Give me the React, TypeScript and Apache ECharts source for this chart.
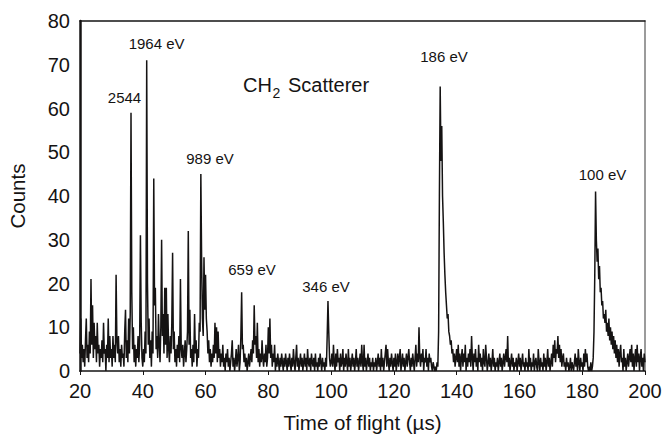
import React, { useEffect, useRef } from "react";
import * as echarts from "echarts";

// Time-of-flight channel grid (µs)
const START_TOF = 20;
const CHANNEL_WIDTH = 0.25;

// Counts per channel, 10 µs per array
const seg020 = [4,12,3,6,2,5,1,7, 12,3,6,2,9,4,21,6, 15,3,11,5,8,2,11,4, 6,1,5,3,7,2,11,4, 5,0,6,3,12,2,8,3];
const seg030 = [5,1,8,3,6,2,22,7, 4,8,2,5,1,6,3,4, 1,9,14,3,7,2,12,4, 13,59,18,5,10,2,6,1, 5,3,8,2,6,31,11,3];
const seg040 = [1,5,2,9,4,71,20,6, 12,3,7,1,9,4,44,15, 19,5,8,3,13,6,2,10, 30,8,13,4,19,6,19,3, 13,5,2,8,4,11,27,5];
const seg050 = [9,2,5,1,6,3,8,2, 21,5,3,6,1,4,7,2, 5,9,32,6,14,3,5,1, 6,2,13,4,7,1,5,3, 11,9,45,25,12,8,26,14];
const seg060 = [22,12,9,4,7,2,5,1, 4,2,6,3,11,4,10,2, 9,3,5,1,4,2,6,1, 3,0,4,2,5,1,3,0, 2,4,7,1,3,0,2,5];
const seg070 = [1,3,6,0,2,8,18,5, 6,2,4,1,3,0,2,4, 1,3,5,2,7,4,15,6, 8,3,11,2,5,1,4,2, 7,3,1,4,2,6,1,3];
const seg080 = [10,4,12,3,6,1,4,2, 6,0,3,1,4,2,0,3, 1,4,2,0,3,1,4,2, 0,3,1,4,2,0,3,1, 5,2,0,3,6,1,3,0];
const seg090 = [2,4,1,3,0,2,4,1, 3,0,5,2,1,3,0,4, 2,1,3,0,4,1,2,0, 3,1,4,2,0,3,1,2, 0,3,1,8,16,9,3,1];
const seg100 = [2,4,1,6,2,0,4,1, 5,2,3,0,4,1,2,5, 0,3,1,4,2,0,5,1, 3,0,2,4,1,3,0,2, 5,1,3,0,2,4,1,6];
const seg110 = [2,0,6,1,3,0,2,4, 1,3,0,2,1,3,0,2, 1,3,0,2,4,1,3,0, 5,1,3,0,2,4,6,1, 5,2,0,3,1,4,2,0];
const seg120 = [3,1,4,0,2,4,1,3, 5,0,2,4,1,3,0,2, 4,1,3,5,2,0,3,1, 4,2,0,3,6,1,4,2, 10,3,1,4,2,5,0,3];
const seg130 = [2,5,1,3,0,4,2,3, 1,0,2,1,0,1,0,2, 1,9,40,65,48,56,40,34, 27,22,18,15,12,13,9,8, 6,7,4,5,2,4,1,3];
const seg140 = [5,2,6,1,4,0,3,5, 1,4,2,6,0,3,1,4, 2,5,1,8,3,0,4,2, 5,1,3,0,6,2,4,1, 3,0,5,2,1,6,3,0];
const seg150 = [2,4,1,3,0,2,5,1, 3,0,2,1,3,0,2,4, 1,3,0,2,4,1,3,5, 2,8,1,3,0,2,4,1, 3,0,2,1,3,0,2,4];
const seg160 = [1,3,0,2,4,1,2,0, 3,1,2,0,5,1,3,0, 2,1,4,0,2,3,1,0, 5,2,0,3,1,2,0,4, 1,3,0,2,5,1,3,0];
const seg170 = [2,4,1,6,3,7,2,5, 4,8,3,6,2,5,1,3, 4,1,2,0,3,1,2,0, 1,3,0,2,1,0,2,4, 1,3,0,5,2,0,3,1];
const seg180 = [2,0,4,1,5,2,4,1, 0,1,0,2,0,1,3,9, 22,41,30,25,28,21,24,18, 19,15,16,12,13,11,14,9, 11,8,12,7,10,6,9,5];
const seg190 = [8,4,7,3,6,2,5,1, 4,6,2,3,0,5,1,3, 0,2,4,1,3,5,2,6, 1,4,0,3,5,1,6,2, 4,0,3,5,1,3,0,4, 2];

// Peak labels
const peakLabels = ["1964 eV", "2544", "989 eV", "659 eV", "346 eV", "186 eV", "100 eV"];

const FONT = "'Liberation Sans', Arial, Helvetica, sans-serif";
const INK = "#151313";

export default function App() {
  const ref = useRef<HTMLDivElement>(null);
  useEffect(() => {
    const chart = echarts.init(ref.current!, null, { renderer: "svg" });
    const counts = [
      ...seg020, ...seg030, ...seg040, ...seg050, ...seg060, ...seg070,
      ...seg080, ...seg090, ...seg100, ...seg110, ...seg120, ...seg130,
      ...seg140, ...seg150, ...seg160, ...seg170, ...seg180, ...seg190,
    ];
    const data = counts.map((c, i) => [START_TOF + CHANNEL_WIDTH * i, c]);

    const labelPos: [number, number][] = [
      [156.6, 43], [124.5, 97], [210, 158], [252, 269], [326, 286], [444, 56], [602.5, 174],
    ];
    const textEl = (text: string, x: number, y: number, size: number, align = "center") => ({
      type: "text",
      x,
      y,
      silent: true,
      style: {
        text,
        fill: INK,
        fontSize: size,
        fontFamily: FONT,
        align,
        textAlign: align,
        verticalAlign: "middle",
        textVerticalAlign: "middle",
      },
    });

    chart.setOption({
      animation: false,
      backgroundColor: "#ffffff",
      textStyle: { fontFamily: FONT, color: INK },
      grid: { left: 80, right: 18, top: 21, bottom: 65, outerBoundsMode: "none" },
      xAxis: [
        {
          type: "value",
          min: 20,
          max: 200,
          interval: 20,
          axisLine: { show: true, onZero: false, lineStyle: { color: INK, width: 1.5 } },
          axisTick: { show: true, inside: false, length: 4, lineStyle: { color: INK, width: 1 } },
          axisLabel: { fontSize: 20, color: INK, margin: 10, fontFamily: FONT },
          splitLine: { show: false },
          name: "Time of flight (\u00b5s)",
          nameLocation: "middle",
          nameGap: 41,
          nameTextStyle: { fontSize: 20.5, color: INK, fontFamily: FONT },
        },
        {
          type: "value",
          position: "top",
          min: 20,
          max: 200,
          axisLine: { show: true, onZero: false, lineStyle: { color: INK, width: 1.5 } },
          axisTick: { show: false },
          axisLabel: { show: false },
          splitLine: { show: false },
        },
      ],
      yAxis: [
        {
          type: "value",
          min: 0,
          max: 80,
          interval: 10,
          axisLine: { show: true, onZero: false, lineStyle: { color: INK, width: 2.5 } },
          axisTick: { show: false },
          axisLabel: { fontSize: 20, color: INK, margin: 10, fontFamily: FONT },
          splitLine: { show: false },
          name: "Counts",
          nameLocation: "middle",
          nameGap: 52,
          nameRotate: 90,
          nameTextStyle: { fontSize: 20.5, color: INK, fontFamily: FONT },
        },
        {
          type: "value",
          position: "right",
          min: 0,
          max: 80,
          axisLine: { show: true, onZero: false, lineStyle: { color: "#7a7a7a", width: 1.5 } },
          axisTick: { show: false },
          axisLabel: { show: false },
          splitLine: { show: false },
        },
      ],
      series: [
        {
          type: "line",
          data,
          xAxisIndex: 0,
          yAxisIndex: 0,
          showSymbol: false,
          symbol: "none",
          lineStyle: { color: INK, width: 1.5 },
          z: 3,
        },
      ],
      graphic: [
        ...peakLabels.map((t, i) => textEl(t, labelPos[i][0], labelPos[i][1], 15)),
        textEl("CH", 243, 85, 20, "left"),
        textEl("2", 272.5, 93, 14, "left"),
        textEl("Scatterer", 288, 85, 20, "left"),
      ],
    });
    return () => chart.dispose();
  }, []);
  return (
    <div
      ref={ref}
      style={{ position: "fixed", left: 0, top: 0, width: 663, height: 436, background: "#fff" }}
    />
  );
}
